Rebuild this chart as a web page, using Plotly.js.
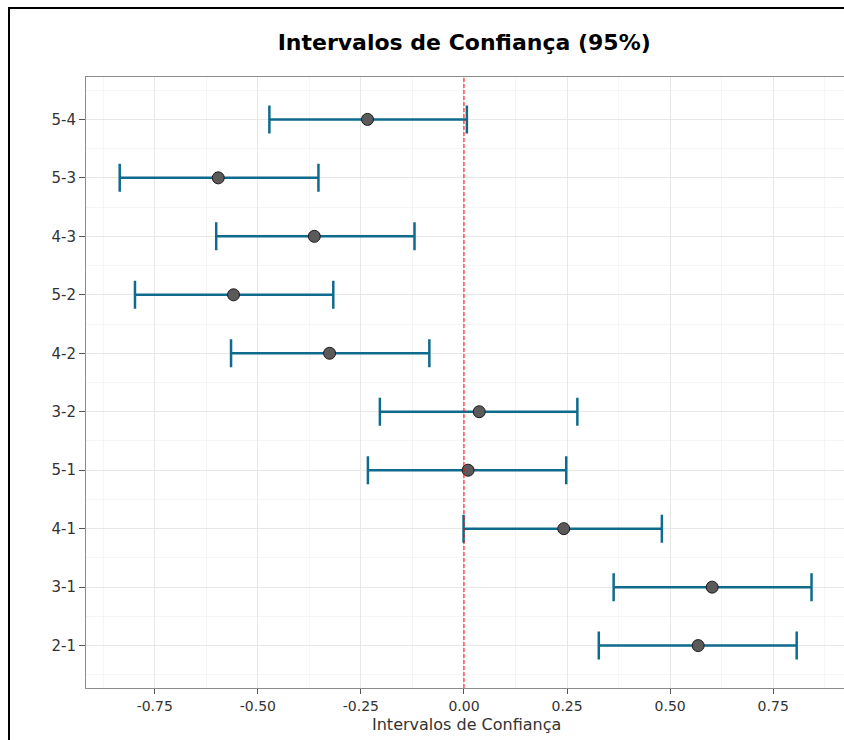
<!DOCTYPE html>
<html>
<head>
<meta charset="utf-8">
<script src="https://cdn.plot.ly/plotly-3.0.1.min.js"></script>
<style>
  html, body { margin: 0; padding: 0; width: 844px; height: 740px; overflow: hidden; background: #fff; }
  #chart { position: absolute; left: 0; top: 0; width: 870px; height: 760px; }
  #frame { position: absolute; left: 8px; top: 7px; width: 900px; height: 800px; border: 2px solid #000; pointer-events: none; }
</style>
</head>
<body>
<div id="chart"></div>
<div id="frame"></div>
<script>
// Comparisons, listed top to bottom as in the chart
const comparisons = ['5-4', '5-3', '4-3', '5-2', '4-2', '3-2', '5-1', '4-1', '3-1', '2-1'];
const estimate    = [-0.234, -0.596, -0.363, -0.559, -0.326, 0.037, 0.010, 0.242, 0.602, 0.568];
const lower       = [-0.472, -0.835, -0.601, -0.798, -0.565, -0.204, -0.233, -0.001, 0.363, 0.327];
const upper       = [0.007, -0.353, -0.120, -0.317, -0.084, 0.275, 0.248, 0.480, 0.843, 0.807];
const xTicks      = [-0.75, -0.50, -0.25, 0.00, 0.25, 0.50, 0.75];
const xTickText   = ['-0.75', '-0.50', '-0.25', '0.00', '0.25', '0.50', '0.75'];
const xTitle      = 'Intervalos de Confiança';
const chartTitle  = 'Intervalos de Confiança (95%)';

const n = comparisons.length;
const yPos = comparisons.map((c, i) => n - 1 - i);

const trace = {
  type: 'scatter',
  mode: 'markers',
  x: estimate,
  y: yPos,
  marker: { size: 12, color: '#5a5a5a', line: { color: '#1a1a1a', width: 1 } },
  error_x: {
    type: 'data',
    symmetric: false,
    array: upper.map((u, i) => u - estimate[i]),
    arrayminus: estimate.map((e, i) => e - lower[i]),
    color: '#0f6b8d',
    thickness: 2.5,
    width: 14
  },
  hoverinfo: 'x+y'
};

const plotH = 760 - 77 - 72;

const layout = {
  width: 870,
  height: 760,
  margin: { l: 86, r: 20, t: 77, b: 72 },
  paper_bgcolor: '#ffffff',
  plot_bgcolor: '#ffffff',
  showlegend: false,
  font: { family: 'DejaVu Sans, Arial, sans-serif', color: '#333333' },
  title: {
    text: chartTitle,
    font: { family: 'DejaVu Sans, Arial, sans-serif', size: 22, color: '#000000', weight: 'bold' },
    xref: 'paper', x: 0.495, xanchor: 'center',
    yref: 'container', y: 1 - 42 / 760, yanchor: 'middle'
  },
  xaxis: {
    range: [-0.9168, 0.9363],
    tickmode: 'array',
    tickvals: xTicks,
    ticktext: xTickText,
    ticks: 'outside',
    ticklen: 5,
    tickwidth: 1,
    tickcolor: '#555555',
    tickfont: { size: 14, color: '#333333' },
    showgrid: true,
    gridcolor: '#e8e8e8',
    gridwidth: 1,
    minor: { tickmode: 'linear', tick0: 0.125, dtick: 0.25, showgrid: true, gridcolor: '#f5f5f5', gridwidth: 1, ticks: '' },
    zeroline: false,
    showline: true,
    linecolor: '#8c8c8c',
    linewidth: 1,
    mirror: true
  },
  yaxis: {
    range: [-0.725, n - 1 + 0.725],
    tickmode: 'array',
    tickvals: yPos,
    ticktext: comparisons,
    ticks: 'outside',
    ticklen: 6,
    tickwidth: 1,
    tickcolor: '#555555',
    tickfont: { size: 15, color: '#333333' },
    showgrid: true,
    gridcolor: '#e8e8e8',
    gridwidth: 1,
    minor: { tickmode: 'linear', tick0: 0.5, dtick: 1, showgrid: true, gridcolor: '#f5f5f5', gridwidth: 1, ticks: '' },
    zeroline: false,
    showline: true,
    linecolor: '#8c8c8c',
    linewidth: 1,
    mirror: true,
    fixedrange: true
  },
  annotations: [{
    text: xTitle,
    xref: 'x', x: 0.005, xanchor: 'center',
    yref: 'paper', y: -(724 - 688) / plotH, yanchor: 'middle',
    showarrow: false,
    font: { size: 16, color: '#333333' }
  }],
  shapes: [{
    type: 'line', xref: 'x', yref: 'paper',
    x0: 0, x1: 0, y0: 0, y1: 1,
    line: { color: '#ff0000', width: 1, dash: '4px,2px' },
    layer: 'above'
  }]
};

Plotly.newPlot('chart', [trace], layout, { displayModeBar: false, staticPlot: true });
</script>
</body>
</html>
